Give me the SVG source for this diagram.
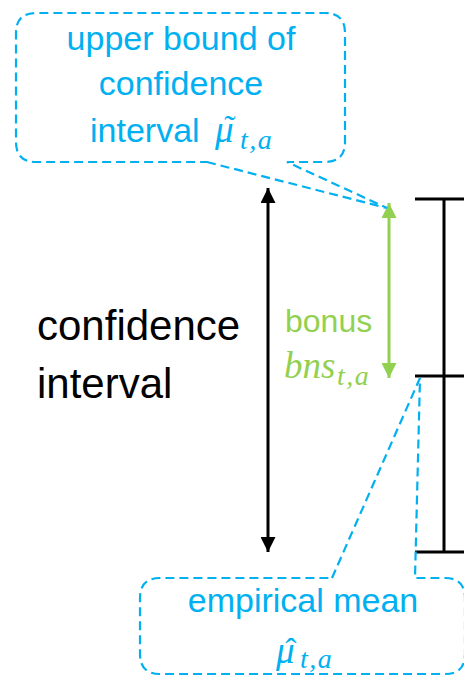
<svg xmlns="http://www.w3.org/2000/svg" width="464" height="676" viewBox="0 0 464 676">
<style>
.callout{fill:none;stroke:#00B0F0;stroke-width:2.2;stroke-dasharray:9 5}
.blue{fill:#00B0F0;font-family:"Liberation Sans",Arial,sans-serif;font-size:34px}
.math{font-family:"Liberation Serif","DejaVu Serif",serif;font-style:italic;font-size:37px}
.sub{font-family:"Liberation Serif","DejaVu Serif",serif;font-style:italic;font-size:28px;letter-spacing:1.5px}
.acc{font-family:"Liberation Serif","DejaVu Serif",serif;font-size:34px}
.black{fill:#000;font-family:"Liberation Sans",Arial,sans-serif;font-size:42px}
.green{fill:#92D050;font-family:"Liberation Sans",Arial,sans-serif;font-size:32px}
.bar{stroke:#000;stroke-width:3;fill:none}
</style>
<defs>
<marker id="ahB" viewBox="0 0 10 10" refX="10" refY="5" markerWidth="15" markerHeight="15" markerUnits="userSpaceOnUse" orient="auto-start-reverse">
<path d="M0,0 L10,5 L0,10 z" fill="#000"/>
</marker>
<marker id="ahG" viewBox="0 0 10 10" refX="10" refY="5" markerWidth="15" markerHeight="15" markerUnits="userSpaceOnUse" orient="auto-start-reverse">
<path d="M0,0 L10,5 L0,10 z" fill="#92D050"/>
</marker>
</defs>
<g id="errorbar">
<line class="bar" x1="444" y1="199" x2="444" y2="552"/>
<line class="bar" x1="415" y1="199" x2="464" y2="199"/>
<line class="bar" x1="415" y1="376" x2="464" y2="376"/>
<line class="bar" x1="415" y1="552" x2="464" y2="552"/>
</g>
<g id="connectors">
<line x1="268" y1="188" x2="268" y2="552" stroke="#000" stroke-width="3" marker-start="url(#ahB)" marker-end="url(#ahB)"/>
<line x1="389" y1="203" x2="389" y2="378" stroke="#92D050" stroke-width="3" marker-start="url(#ahG)" marker-end="url(#ahG)"/>
</g>
<g id="upper-callout">
<path class="callout" d="M207,162 L387,208 L287,162 L325,162 Q345,162 345,142 L345,33 Q345,13 325,13 L36,13 Q16,13 16,33 L16,142 Q16,162 36,162 Z"/>
<text class="blue" x="181" y="50" text-anchor="middle">upper bound of</text>
<text class="blue" x="181" y="95" text-anchor="middle">confidence</text>
<text class="blue" x="90" y="142">interval <tspan class="math" x="215">μ</tspan><tspan class="sub" x="240" dy="7">t,a</tspan></text>
<text class="blue acc" x="230" y="139" text-anchor="middle">˜</text>
</g>
<g id="ci-label">
<text class="black" x="37" y="340">confidence</text>
<text class="black" x="37" y="398">interval</text>
</g>
<g id="bonus-label">
<text class="green" x="285" y="332">bonus</text>
<text class="green" x="284" y="378"><tspan class="math">bns</tspan><tspan class="sub" x="337" dy="7">t,a</tspan></text>
</g>
<g id="mean-callout">
<path class="callout" d="M332,578 L420,378 L415,578 L445,578 Q465,578 465,598 L465,654 Q465,674 445,674 L160,674 Q140,674 140,654 L140,598 Q140,578 160,578 Z"/>
<text class="blue" x="303" y="612" text-anchor="middle">empirical mean</text>
<text class="blue" x="276" y="663"><tspan class="math">μ</tspan><tspan class="sub" x="300" dy="5">t,a</tspan></text>
<text class="blue acc" x="291" y="662" text-anchor="middle">ˆ</text>
</g>
</svg>
